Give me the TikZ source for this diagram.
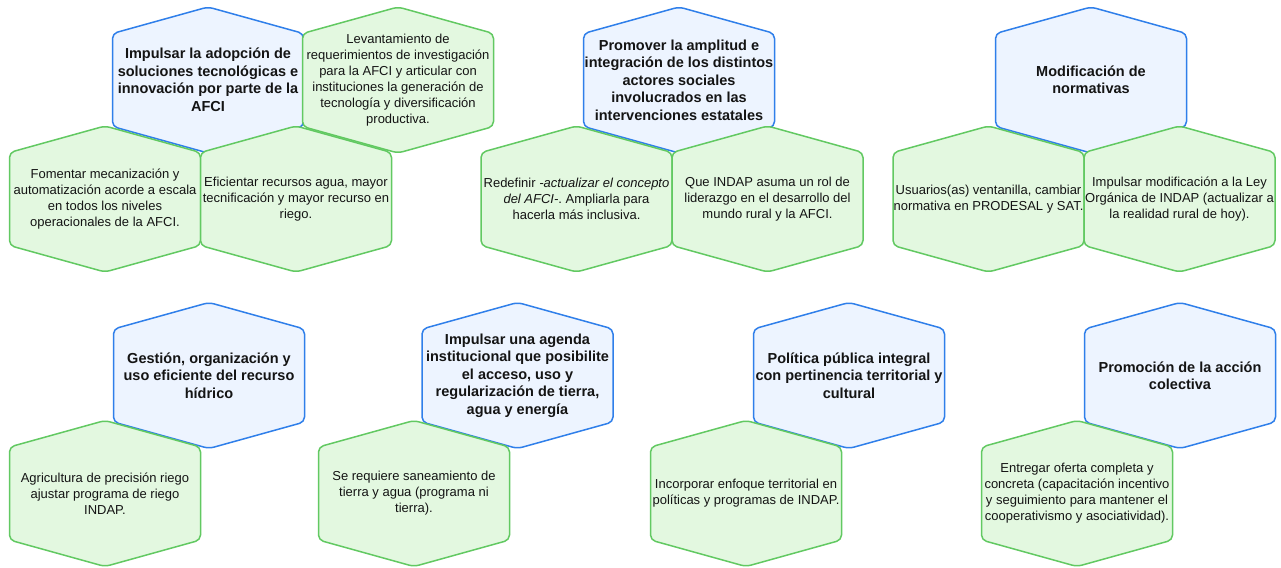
\documentclass[tikz,border=0pt]{standalone}
\usepackage{fontspec}
\setmainfont{Liberation Sans}
\frenchspacing
\definecolor{bstroke}{HTML}{2F7FEA}
\definecolor{bfill}{HTML}{EDF4FF}
\definecolor{gstroke}{HTML}{62C962}
\definecolor{gfill}{HTML}{E3F8E0}
\definecolor{txt}{HTML}{141414}
\tikzset{
  hexblue/.style={draw=bstroke, fill=bfill, line width=1.5pt, rounded corners=5pt, line join=round},
  hexgreen/.style={draw=gstroke, fill=gfill, line width=1.5pt, rounded corners=5pt, line join=round},
  titletext/.style={align=center, text=txt, font=\fontsize{14.5}{17.5}\selectfont\bfseries\frenchspacing, inner sep=0pt},
  bodytext/.style={align=center, text=txt, font=\fontsize{13}{16}\selectfont\frenchspacing, inner sep=0pt},
}
\newcommand{\hexshape}[2]{% #1 style, #2 centre
  \path[#1] (#2) ++(0,-73) -- ++(95.5,26.5) -- ++(0,93) -- ++(-95.5,26.5) -- ++(-95.5,-26.5) -- ++(0,-93) -- cycle;}
\newcommand{\bluehex}[3]{\hexshape{hexblue}{#2}\node[titletext] (#1) at (#2) {#3};}
\newcommand{\greenhex}[3]{\hexshape{hexgreen}{#2}\node[bodytext] (#1) at (#2) {#3};}
\begin{document}
\begin{tikzpicture}[x=1pt,y=-1pt]
\useasboundingbox (0,0) rectangle (1281,567);
\fill[white] (0,0) rectangle (1281,567);
% group 1
\bluehex{b1}{208,80}{Impulsar la adopción de\\soluciones tecnológicas e\\innovación por parte de la\\AFCI}
\greenhex{g1}{398,80}{Levantamiento de\\requerimientos de investigación\\para la AFCI y articular con\\instituciones la generación de\\tecnología y diversificación\\productiva.}
\greenhex{g2}{105,199}{Fomentar mecanización y\\automatización acorde a escala\\en todos los niveles\\operacionales de la AFCI.}
\greenhex{g3}{296,199}{Eficientar recursos agua, mayor\\tecnificación y mayor recurso en\\riego.}
% group 2
\bluehex{b2}{679,80}{Promover la amplitud e\\integración de los distintos\\actores sociales\\involucrados en las\\intervenciones estatales}
\greenhex{g4}{576.5,199}{Redefinir \textit{-actualizar el concepto}\\\textit{del AFCI-}. Ampliarla para\\hacerla más inclusiva.}
\greenhex{g5}{767.5,199}{Que INDAP asuma un rol de\\liderazgo en el desarrollo del\\mundo rural y la AFCI.}
% group 3
\bluehex{b3}{1091,80}{Modificación de\\normativas}
\greenhex{g6}{988.5,199}{Usuarios(as) ventanilla, cambiar\\normativa en PRODESAL y SAT.}
\greenhex{g7}{1179.5,199}{Impulsar modificación a la Ley\\Orgánica de INDAP (actualizar a\\la realidad rural de hoy).}
% row 2
\bluehex{b4}{209,375.5}{Gestión, organización y\\uso eficiente del recurso\\hídrico}
\greenhex{g8}{105,493.5}{Agricultura de precisión riego\\ajustar programa de riego\\INDAP.}
\bluehex{b5}{517.5,375.5}{Impulsar una agenda\\institucional que posibilite\\el acceso, uso y\\regularización de tierra,\\agua y energía}
\greenhex{g9}{414,493.5}{Se requiere saneamiento de\\tierra y agua (programa ni\\tierra).}
\bluehex{b6}{849,375.5}{Política pública integral\\con pertinencia territorial y\\cultural}
\greenhex{g10}{746,493.5}{Incorporar enfoque territorial en\\políticas y programas de INDAP.}
\bluehex{b7}{1180,375.5}{Promoción de la acción\\colectiva}
\greenhex{g11}{1077,493.5}{Entregar oferta completa y\\concreta (capacitación incentivo\\y seguimiento para mantener el\\cooperativismo y asociatividad).}
\end{tikzpicture}
\end{document}
